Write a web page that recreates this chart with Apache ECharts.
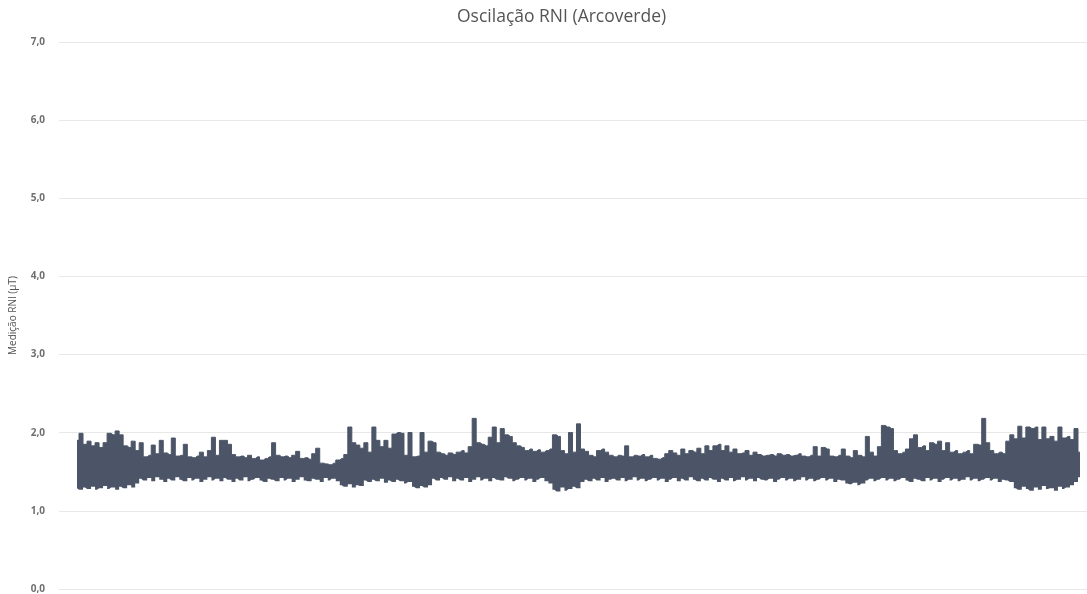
<!DOCTYPE html>
<html>
<head>
<meta charset="utf-8">
<title>Oscilação RNI (Arcoverde)</title>
<script src="https://cdn.jsdelivr.net/npm/echarts@6/dist/echarts.min.js"></script>
<style>
  html, body { margin: 0; padding: 0; background: #ffffff; }
  #chart { width: 1087px; height: 594px; }
</style>
</head>
<body>
<div id="chart"></div>
<script>
// Per-sample peak (upper) and trough (lower) readings of the RNI sensor, in µT
const upper = [
  1.93, 2.02, 1.88, 1.92, 1.86, 1.90, 1.84, 1.90, 2.02, 2.00,
  2.05, 2.00, 1.86, 1.84, 1.92, 1.80, 1.90, 1.72, 1.74, 1.87,
  1.76, 1.93, 1.77, 1.75, 1.96, 1.73, 1.74, 1.88, 1.72, 1.71,
  1.73, 1.78, 1.72, 1.80, 1.97, 1.74, 1.93, 1.93, 1.88, 1.75,
  1.72, 1.73, 1.71, 1.74, 1.70, 1.72, 1.68, 1.70, 1.72, 1.90,
  1.74, 1.72, 1.73, 1.71, 1.74, 1.79, 1.70, 1.71, 1.69, 1.76,
  1.83, 1.64, 1.63, 1.62, 1.64, 1.68, 1.70, 1.75, 2.10, 1.90,
  1.87, 1.83, 1.90, 1.78, 2.10, 1.93, 1.85, 1.93, 1.83, 2.01,
  2.03, 2.02, 1.74, 2.03, 1.72, 1.73, 2.03, 1.78, 1.92, 1.90,
  1.78, 1.76, 1.74, 1.77, 1.75, 1.78, 1.80, 1.77, 1.85, 2.21,
  1.90, 1.88, 1.86, 1.97, 2.10, 1.90, 2.08, 2.00, 1.98, 1.90,
  1.86, 1.84, 1.80, 1.82, 1.79, 1.81, 1.78, 1.80, 1.82, 2.00,
  1.98, 1.80, 1.76, 2.03, 1.78, 2.14, 1.82, 1.79, 1.74, 1.72,
  1.80, 1.82, 1.78, 1.74, 1.72, 1.74, 1.73, 1.86, 1.72, 1.74,
  1.73, 1.75, 1.72, 1.74, 1.70, 1.69, 1.71, 1.76, 1.80, 1.77,
  1.74, 1.82, 1.76, 1.80, 1.78, 1.83, 1.76, 1.86, 1.80, 1.86,
  1.88, 1.80, 1.86, 1.78, 1.82, 1.76, 1.77, 1.80, 1.74, 1.78,
  1.75, 1.73, 1.74, 1.75, 1.73, 1.76, 1.74, 1.75, 1.73, 1.74,
  1.76, 1.73, 1.72, 1.74, 1.85, 1.73, 1.84, 1.82, 1.73, 1.72,
  1.74, 1.82, 1.73, 1.71, 1.80, 1.74, 1.72, 1.98, 1.78, 1.73,
  1.85, 2.12, 2.10, 2.08, 1.80, 1.76, 1.78, 1.82, 1.95, 2.00,
  1.84, 1.86, 1.80, 1.90, 1.88, 1.92, 1.80, 1.90, 1.78, 1.80,
  1.76, 1.78, 1.80, 1.76, 1.88, 1.87, 2.21, 1.90, 1.80, 1.76,
  1.78, 1.76, 1.92, 2.00, 1.95, 2.11, 1.96, 2.10, 2.08, 2.10,
  1.94, 2.10, 1.95, 1.98, 1.92, 2.10, 1.96, 1.98, 1.94, 2.08,
  1.78
];

const lower = [
  1.32, 1.30, 1.33, 1.31, 1.34, 1.30, 1.32, 1.35, 1.31, 1.33,
  1.30, 1.34, 1.32, 1.36, 1.33, 1.38,
  1.44, 1.42, 1.45, 1.41, 1.46, 1.43, 1.40, 1.44, 1.42, 1.46,
  1.43, 1.41, 1.45, 1.42, 1.44, 1.40, 1.43, 1.46, 1.42, 1.44,
  1.41, 1.45, 1.43, 1.40, 1.44, 1.42, 1.46, 1.41, 1.43, 1.45,
  1.42, 1.40, 1.44, 1.43, 1.41, 1.45, 1.42, 1.44, 1.40, 1.43,
  1.46, 1.42, 1.41, 1.44, 1.43, 1.40, 1.45, 1.42, 1.44, 1.41,
  1.36, 1.34, 1.37, 1.33, 1.36, 1.35,
  1.42, 1.40, 1.43, 1.41, 1.44, 1.39, 1.42, 1.40, 1.43, 1.41, 1.38, 1.40,
  1.34, 1.32, 1.35, 1.33, 1.36,
  1.44, 1.42, 1.45, 1.43, 1.46, 1.41, 1.44, 1.42, 1.45, 1.40,
  1.43, 1.46, 1.42, 1.44, 1.41, 1.45, 1.43, 1.42, 1.46, 1.44,
  1.41, 1.43, 1.45, 1.42, 1.44, 1.40, 1.43, 1.45, 1.41, 1.38,
  1.30, 1.28, 1.33, 1.29, 1.31, 1.34, 1.32,
  1.40, 1.43, 1.41, 1.44, 1.42, 1.45, 1.40, 1.43, 1.44, 1.42,
  1.45, 1.41, 1.43, 1.46, 1.42, 1.44, 1.41, 1.43, 1.45, 1.42,
  1.44, 1.40, 1.43, 1.45, 1.41, 1.44, 1.42, 1.46, 1.43, 1.41,
  1.44, 1.42, 1.45, 1.43, 1.40, 1.44, 1.42, 1.45, 1.41, 1.43,
  1.46, 1.42, 1.44, 1.41, 1.45, 1.43, 1.42, 1.44, 1.40, 1.43,
  1.45, 1.42, 1.44, 1.41, 1.43, 1.46, 1.42, 1.44, 1.41, 1.43,
  1.45, 1.42, 1.44, 1.40, 1.43, 1.42, 1.38, 1.37, 1.39, 1.36,
  1.38, 1.42, 1.44, 1.41, 1.43, 1.45, 1.42, 1.44, 1.41, 1.43,
  1.45, 1.42, 1.40, 1.44, 1.43, 1.41, 1.45, 1.42, 1.44, 1.40,
  1.43, 1.45, 1.42, 1.44, 1.41, 1.43, 1.46, 1.42, 1.44, 1.41,
  1.43, 1.45, 1.42, 1.44, 1.40, 1.43, 1.42, 1.40,
  1.32, 1.30, 1.34, 1.31, 1.29, 1.33, 1.30, 1.35, 1.31, 1.32,
  1.29, 1.34, 1.31, 1.33, 1.36, 1.40, 1.46
];

const yTicks = [0, 1, 2, 3, 4, 5, 6, 7];

const bandColor = '#4b5567';
const sampleIndex = upper.map((_, i) => String(i));

// Trough level for each sample, and the swing above it up to the peak
const swings = upper.map((hi, i) => +(hi - lower[i]).toFixed(2));

const yMin = yTicks[0];
const yMax = yTicks[yTicks.length - 1];

const chart = echarts.init(document.getElementById('chart'));

chart.setOption({
  animation: false,
  backgroundColor: '#ffffff',
  title: {
    text: 'Oscilação RNI (Arcoverde)',
    left: 452,
    top: 3,
    textStyle: {
      fontFamily: 'Open Sans',
      fontSize: 17.5,
      fontWeight: 'normal',
      color: '#555555'
    }
  },
  grid: [
    // frame that carries the value axis and its gridlines
    { left: 52, right: 0, top: 42, bottom: 2, containLabel: false },
    // plotting area of the trace, inset from the gridlines
    { left: 77, right: 7, top: 42, bottom: 2, containLabel: false }
  ],
  xAxis: [
    { gridIndex: 0, type: 'value', min: 0, max: 1, show: false },
    { gridIndex: 1, type: 'category', data: sampleIndex, boundaryGap: false, show: false }
  ],
  yAxis: [
    {
      gridIndex: 0,
      type: 'value',
      min: yMin,
      max: yMax,
      interval: 1,
      name: 'Medição RNI (µT)',
      nameLocation: 'middle',
      nameGap: 41,
      nameTextStyle: {
        fontFamily: 'Open Sans',
        fontSize: 10,
        color: '#555555'
      },
      axisLine: { show: false },
      axisTick: { show: false },
      axisLabel: {
        margin: 14,
        fontFamily: 'Open Sans',
        fontSize: 10,
        fontWeight: 'bold',
        color: '#6f6f6f',
        formatter: v => v.toFixed(1).replace('.', ',')
      },
      splitLine: { lineStyle: { color: '#e8e8e8', width: 1 } }
    },
    { gridIndex: 1, type: 'value', min: yMin, max: yMax, show: false }
  ],
  series: [
    {
      name: 'trough',
      type: 'line',
      xAxisIndex: 1,
      yAxisIndex: 1,
      stack: 'band',
      step: 'middle',
      data: lower,
      symbol: 'none',
      sampling: null,
      lineStyle: { width: 0, opacity: 0 },
      silent: true
    },
    {
      name: 'RNI',
      type: 'line',
      xAxisIndex: 1,
      yAxisIndex: 1,
      stack: 'band',
      step: 'middle',
      data: swings,
      symbol: 'none',
      sampling: null,
      lineStyle: { color: bandColor, width: 1 },
      areaStyle: { color: bandColor, opacity: 1 },
      itemStyle: { color: bandColor }
    }
  ]
});
</script>
</body>
</html>
